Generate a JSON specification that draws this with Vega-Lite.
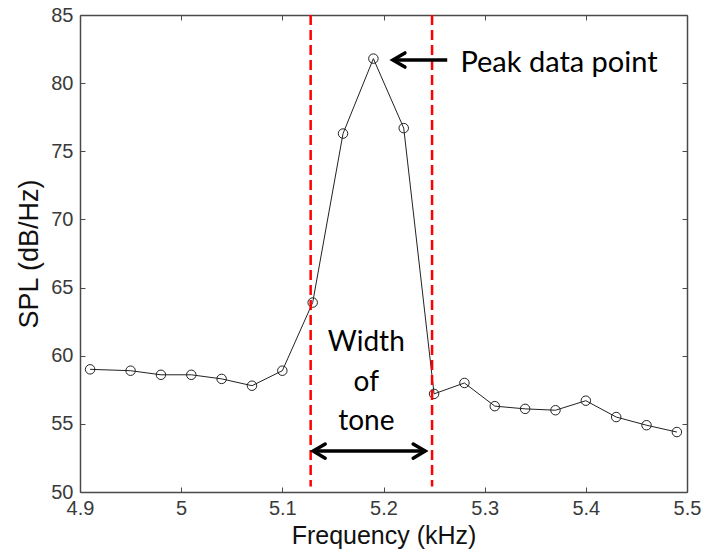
{
  "$schema": "https://vega.github.io/schema/vega-lite/v6.json",
  "width": 607,
  "height": 477,
  "autosize": {"type": "none"},
  "padding": {"left": 80, "top": 15, "right": 15, "bottom": 64},
  "background": "white",
  "config": {
    "view": {"stroke": null},
    "axis": {
      "labelFont": "Liberation Sans",
      "labelFontSize": 20,
      "labelColor": "#3a3a3a",
      "titleFont": "Liberation Sans",
      "titleFontWeight": "normal",
      "titleColor": "#111111",
      "domainColor": "#4a4a4a",
      "domainWidth": 1.5,
      "tickColor": "#4a4a4a",
      "tickWidth": 1,
      "tickSize": -5,
      "grid": false
    }
  },
  "datasets": {
    "spl": [
      {"freq": 4.91, "spl": 59.0},
      {"freq": 4.95, "spl": 58.9},
      {"freq": 4.98, "spl": 58.6},
      {"freq": 5.01, "spl": 58.6},
      {"freq": 5.04, "spl": 58.3},
      {"freq": 5.07, "spl": 57.8},
      {"freq": 5.10, "spl": 58.9},
      {"freq": 5.13, "spl": 63.9},
      {"freq": 5.16, "spl": 76.3},
      {"freq": 5.19, "spl": 81.8},
      {"freq": 5.22, "spl": 76.7},
      {"freq": 5.25, "spl": 57.2},
      {"freq": 5.28, "spl": 58.0},
      {"freq": 5.31, "spl": 56.3},
      {"freq": 5.34, "spl": 56.1},
      {"freq": 5.37, "spl": 56.0},
      {"freq": 5.40, "spl": 56.7},
      {"freq": 5.43, "spl": 55.5},
      {"freq": 5.46, "spl": 54.9},
      {"freq": 5.49, "spl": 54.4}
    ],
    "bounds": [
      {"freq": 5.128, "top": 85, "bottom": 50.4},
      {"freq": 5.248, "top": 85, "bottom": 50.4}
    ],
    "arrows": [
      {"from": 5.2093, "to": 5.263, "spl": 81.7},
      {"from": 5.1305, "to": 5.2412, "spl": 53.0}
    ],
    "heads": [
      {"freq": 5.2093, "spl": 81.7, "dir": "left"},
      {"freq": 5.1305, "spl": 53.0, "dir": "left"},
      {"freq": 5.2412, "spl": 53.0, "dir": "right"}
    ],
    "labels": [
      {"freq": 5.276, "spl": 81.45, "text": "Peak data point", "anchor": "start"},
      {"freq": 5.183, "spl": 60.9, "text": "Width", "anchor": "middle"},
      {"freq": 5.183, "spl": 58.0, "text": "of", "anchor": "middle"},
      {"freq": 5.183, "spl": 55.1, "text": "tone", "anchor": "middle"}
    ]
  },
  "resolve": {"axis": {"x": "independent", "y": "independent"}},
  "layer": [
    {
      "data": {"name": "spl"},
      "mark": {"type": "line", "color": "#222222", "strokeWidth": 1},
      "encoding": {
        "x": {
          "field": "freq", "type": "quantitative",
          "scale": {"domain": [4.9, 5.5], "nice": false, "zero": false},
          "axis": {
            "orient": "bottom",
            "title": "Frequency (kHz)",
            "titleFontSize": 25,
            "titlePadding": 5,
            "values": [4.9, 5.0, 5.1, 5.2, 5.3, 5.4, 5.5],
            "format": "~g",
            "labelPadding": 11,
            "labelFlush": false
          }
        },
        "y": {
          "field": "spl", "type": "quantitative",
          "scale": {"domain": [50, 85], "nice": false, "zero": false},
          "axis": {
            "orient": "left",
            "title": "SPL (dB/Hz)",
            "titleFontSize": 27,
            "titlePadding": 7,
            "values": [50, 55, 60, 65, 70, 75, 80, 85],
            "labelPadding": 12,
            "labelFlush": false
          }
        }
      }
    },
    {
      "data": {"name": "spl"},
      "mark": {"type": "point", "shape": "circle", "filled": false, "color": "#222222", "strokeWidth": 1, "size": 90, "opacity": 1},
      "encoding": {
        "x": {
          "field": "freq", "type": "quantitative",
          "axis": {"orient": "top", "title": null, "labels": false, "values": [4.9, 5.0, 5.1, 5.2, 5.3, 5.4, 5.5]}
        },
        "y": {
          "field": "spl", "type": "quantitative",
          "axis": {"orient": "right", "title": null, "labels": false, "values": [50, 55, 60, 65, 70, 75, 80, 85]}
        }
      }
    },
    {
      "data": {"name": "bounds"},
      "mark": {"type": "rule", "color": "#ff0000", "strokeWidth": 2.5, "strokeDash": [10, 5]},
      "encoding": {
        "x": {"field": "freq", "type": "quantitative", "axis": null},
        "y": {"field": "top", "type": "quantitative", "axis": null},
        "y2": {"field": "bottom"}
      }
    },
    {
      "data": {"name": "arrows"},
      "mark": {"type": "rule", "color": "black", "strokeWidth": 3.5},
      "encoding": {
        "x": {"field": "from", "type": "quantitative", "axis": null},
        "x2": {"field": "to"},
        "y": {"field": "spl", "type": "quantitative", "axis": null}
      }
    },
    {
      "data": {"name": "heads"},
      "mark": {"type": "point", "filled": false, "color": "black", "strokeWidth": 3.5, "size": 200, "opacity": 1, "strokeCap": "round", "strokeJoin": "miter"},
      "encoding": {
        "x": {"field": "freq", "type": "quantitative", "axis": null},
        "y": {"field": "spl", "type": "quantitative", "axis": null},
        "shape": {
          "field": "dir", "type": "nominal", "legend": null,
          "scale": {"domain": ["left", "right"], "range": ["M1.7,-1L0,0L1.7,1", "M-1.7,-1L0,0L-1.7,1"]}
        }
      }
    },
    {
      "data": {"name": "labels"},
      "transform": [{"filter": "datum.anchor === 'start'"}],
      "mark": {"type": "text", "font": "Lato", "fontSize": 29, "color": "black", "align": "left", "baseline": "middle"},
      "encoding": {
        "x": {"field": "freq", "type": "quantitative", "axis": null},
        "y": {"field": "spl", "type": "quantitative", "axis": null},
        "text": {"field": "text"}
      }
    },
    {
      "data": {"name": "labels"},
      "transform": [{"filter": "datum.anchor === 'middle'"}],
      "mark": {"type": "text", "font": "Lato", "fontSize": 28, "color": "black", "align": "center", "baseline": "middle"},
      "encoding": {
        "x": {"field": "freq", "type": "quantitative", "axis": null},
        "y": {"field": "spl", "type": "quantitative", "axis": null},
        "text": {"field": "text"}
      }
    }
  ]
}
